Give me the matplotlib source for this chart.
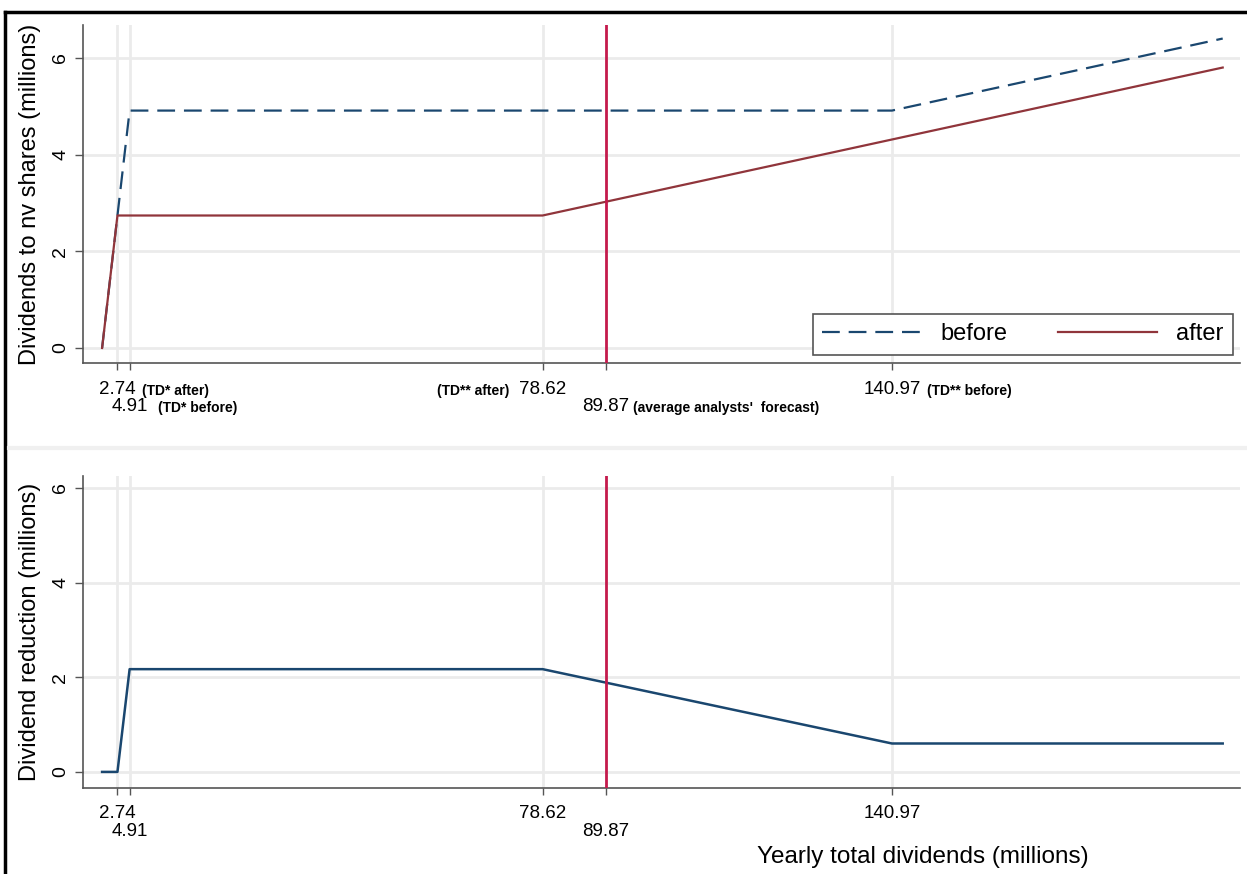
import matplotlib.pyplot as plt
from matplotlib.lines import Line2D

# values
x_before = [0, 4.91, 140.97, 200]
y_before = [0, 4.91, 4.91, 6.40]
x_after = [0, 2.74, 78.62, 200]
y_after = [0, 2.74, 2.74, 5.80]
x_reduction = [0, 2.74, 4.91, 78.62, 140.97, 200]
y_reduction = [0, 0, 2.17, 2.17, 0.60, 0.60]

forecast = 89.87
x_ticks = [2.74, 4.91, 78.62, 89.87, 140.97]
x_tick_labels = ["2.74", "4.91", "78.62", "89.87", "140.97"]
tick_row = [0, 1, 0, 1, 0]
y_ticks = [0, 2, 4, 6]

notes = ["(TD* after)", "(TD* before)", "(TD** after)",
         "(average analysts'  forecast)", "(TD** before)"]

NAVY = "#1a476f"
MAROON = "#90353b"
VLINE = "#c41a4c"
GRID = "#ebebeb"
AXC = "#555555"

plt.rcParams["font.family"] = ["Liberation Sans", "DejaVu Sans"]

fig = plt.figure(figsize=(12.47, 8.74), dpi=100)
ax1 = fig.add_axes([0.0666, 0.5847, 0.9274, 0.3867])
ax2 = fig.add_axes([0.0666, 0.0984, 0.9274, 0.3570])


def style_axes(ax, ylim):
	ax.set_xlim(-3.4, 203)
	ax.set_ylim(*ylim)
	for s in ["top", "right"]:
		ax.spines[s].set_visible(False)
	for s in ["left", "bottom"]:
		ax.spines[s].set_color(AXC)
		ax.spines[s].set_linewidth(1.2)
	ax.tick_params(axis="y", length=6, width=1, color=AXC, pad=4,
	               labelsize=14, labelrotation=90)
	ax.tick_params(axis="x", length=5, width=1, color=AXC)
	ax.set_yticks(y_ticks, labels=[str(v) for v in y_ticks])
	for lab in ax.get_yticklabels():
		lab.set_va("center")
	ax.set_xticks(x_ticks)
	for v in y_ticks:
		ax.axhline(v, color=GRID, lw=2, zorder=0)
	for v in x_ticks:
		if v != forecast:
			ax.axvline(v, color=GRID, lw=2, zorder=0)
	ax.axvline(forecast, color=VLINE, lw=2, zorder=3)


def style_ylabel(ax, text):
	ax.set_ylabel(text, fontsize=17)
	ax.yaxis.set_label_coords(-0.046, 0.5)
	ax.yaxis.label.set_va("center")


# top panel
style_axes(ax1, (-0.31, 6.68))
ax1.plot(x_before, y_before, color=NAVY, lw=1.6, dashes=(8, 4), label="before")
ax1.plot(x_after, y_after, color=MAROON, lw=1.6, label="after")
ax1.set_xticklabels(x_tick_labels, fontsize=13.5)
for tick, row in zip(ax1.xaxis.get_major_ticks(), tick_row):
	tick.set_pad(8 if row == 0 else 20)
ax1.xaxis.get_major_ticks()[3].tick1line.set_color(VLINE)
style_ylabel(ax1, "Dividends to nv shares (millions)")

note_offsets = [(18, -20, "left"), (20.5, -32.5, "left"), (-24, -20, "right"),
                (19.5, -32.5, "left"), (25, -20, "left")]
for xv, txt, (dx, dy, ha) in zip(x_ticks, notes, note_offsets):
	ax1.annotate(txt, xy=(xv, 0), xycoords=ax1.get_xaxis_transform(),
	             xytext=(dx, dy), textcoords="offset points",
	             ha=ha, va="center", fontsize=10, fontweight="bold",
	             annotation_clip=False)

leg = ax1.legend(loc="lower left", bbox_to_anchor=(0.631, 0.024, 0.363, 0.133),
                 mode="expand", ncol=2, fontsize=17, handlelength=4.2,
                 fancybox=False, edgecolor=AXC, framealpha=1, borderaxespad=0)
leg.get_frame().set_linewidth(1.2)

# bottom panel
style_axes(ax2, (-0.34, 6.25))
ax2.plot(x_reduction, y_reduction, color=NAVY, lw=1.8)
ax2.set_xticklabels(x_tick_labels, fontsize=13.5)
for tick, row in zip(ax2.xaxis.get_major_ticks(), tick_row):
	tick.set_pad(7 if row == 0 else 20)
style_ylabel(ax2, "Dividend reduction (millions)")
ax2.set_xlabel("Yearly total dividends (millions)", fontsize=17.5)
ax2.xaxis.set_label_coords(0.726, -0.221)
ax2.xaxis.label.set_va("center")

# frame and panel separator
fig.add_artist(Line2D([0.004, 1], [0.986, 0.986], color="black", lw=2.5))
fig.add_artist(Line2D([0.004, 0.004], [0, 0.986], color="black", lw=2.5))
fig.add_artist(Line2D([0.007, 1], [0.487, 0.487], color="#f0f0f0", lw=3))

fig.savefig("out.png", dpi=100)
